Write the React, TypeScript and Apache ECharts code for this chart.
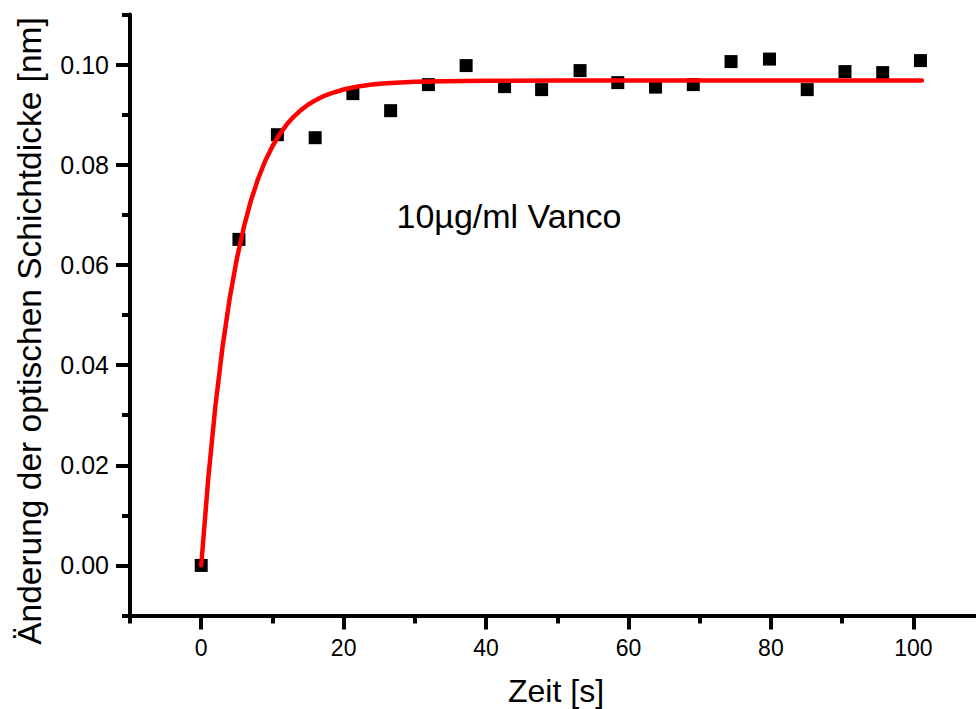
import React, { useEffect, useRef } from "react";
import * as echarts from "echarts";

// Measured data points (time [s], change of optical thickness [nm])
const timeValues = [0, 5.3, 10.7, 16.0, 21.3, 26.6, 31.9, 37.2, 42.6, 47.8, 53.2, 58.5, 63.8, 69.1, 74.4, 79.8, 85.1, 90.4, 95.7, 101.0];
const thicknessValues = [0.0, 0.0651, 0.086, 0.0854, 0.0942, 0.0908, 0.096, 0.0998, 0.0956, 0.095, 0.0988, 0.0964, 0.0955, 0.096, 0.1006, 0.1011, 0.095, 0.0986, 0.0984, 0.1008];

// Fit curve (red line)
const fitTime = [0, 1, 2, 3, 4, 5, 6, 7, 8, 9, 10, 11, 12, 13, 14, 15, 16, 17, 18, 20, 22, 24, 26, 28, 30, 34, 40, 50, 70, 101.2];
const fitValues = [0, 0.01755, 0.03191, 0.04368, 0.05331, 0.06119, 0.06764, 0.07293, 0.07726, 0.0808, 0.0837, 0.08607, 0.08802, 0.08961, 0.09091, 0.09198, 0.09285, 0.09357, 0.09416, 0.09503, 0.09561, 0.09601, 0.09627, 0.09644, 0.09656, 0.09669, 0.09677, 0.0968, 0.0968, 0.0968];

// Tick values
const xMajorTicks = [0, 20, 40, 60, 80, 100];
const xMinorTicks = [-10, 10, 30, 50, 70, 90];
const yMajorTicks = [0, 0.02, 0.04, 0.06, 0.08, 0.1];
const yMinorTicks = [-0.01, 0.01, 0.03, 0.05, 0.07, 0.09, 0.11];

const xTitle = "Zeit [s]";
const yTitle = "Änderung der optischen Schichtdicke [nm]";
const annotation = "10µg/ml Vanco";

const FONT = "Liberation Sans, Arial, Helvetica, sans-serif";
const X_MIN = -10;
const X_MAX = 108.8;
const Y_MIN = -0.01;
const Y_MAX = 0.11;

export default function App() {
  const ref = useRef<HTMLDivElement>(null);
  useEffect(() => {
    if (!ref.current) return;
    const chart = echarts.init(ref.current, undefined, { renderer: "svg" });
    const gridPos = { left: 130, right: 0, top: 14.5, bottom: 93.5, containLabel: false };
    const scatterData = timeValues.map((t, i) => [t, thicknessValues[i]]);
    const fitData = fitTime.map((t, i) => [t, fitValues[i]]);
    chart.setOption({
      animation: false,
      backgroundColor: "#ffffff",
      grid: [gridPos, { ...gridPos }],
      xAxis: [
        {
          type: "value",
          gridIndex: 0,
          min: X_MIN,
          max: X_MAX,
          position: "bottom",
          axisLine: { show: true, onZero: false, lineStyle: { color: "#000", width: 4 } },
          axisTick: { show: true, length: 14, customValues: xMajorTicks, lineStyle: { color: "#000", width: 4 } },
          axisLabel: {
            show: true,
            customValues: xMajorTicks,
            margin: 21,
            color: "#000",
            fontFamily: FONT,
            fontSize: 23,
            formatter: (v: number) => String(Math.round(v)),
          },
          splitLine: { show: false },
        },
        {
          type: "value",
          gridIndex: 1,
          min: X_MIN,
          max: X_MAX,
          position: "bottom",
          axisLine: { show: false, onZero: false },
          axisTick: { show: true, length: 8, customValues: xMinorTicks, lineStyle: { color: "#000", width: 4 } },
          axisLabel: { show: false },
          splitLine: { show: false },
        },
      ],
      yAxis: [
        {
          type: "value",
          gridIndex: 0,
          min: Y_MIN,
          max: Y_MAX,
          position: "left",
          axisLine: { show: true, onZero: false, lineStyle: { color: "#000", width: 4 } },
          axisTick: { show: true, length: 14, customValues: yMajorTicks, lineStyle: { color: "#000", width: 4 } },
          axisLabel: {
            show: true,
            customValues: yMajorTicks,
            margin: 21,
            color: "#000",
            fontFamily: FONT,
            fontSize: 25,
            formatter: (v: number) => v.toFixed(2),
          },
          splitLine: { show: false },
        },
        {
          type: "value",
          gridIndex: 1,
          min: Y_MIN,
          max: Y_MAX,
          position: "left",
          axisLine: { show: false, onZero: false },
          axisTick: { show: true, length: 8, customValues: yMinorTicks, lineStyle: { color: "#000", width: 4 } },
          axisLabel: { show: false },
          splitLine: { show: false },
        },
      ],
      series: [
        {
          type: "scatter",
          xAxisIndex: 0,
          yAxisIndex: 0,
          data: scatterData,
          symbol: "rect",
          symbolSize: 13,
          itemStyle: { color: "#000", opacity: 1 },
          z: 2,
        },
        {
          type: "line",
          xAxisIndex: 0,
          yAxisIndex: 0,
          data: fitData,
          showSymbol: false,
          symbol: "none",
          lineStyle: { color: "#ff0000", width: 4.5, cap: "round", join: "round" },
          z: 3,
        },
      ],
      graphic: [
        {
          type: "text",
          x: 509,
          y: 216,
          style: { text: annotation, fill: "#000", font: `34px ${FONT}`, align: "center", verticalAlign: "middle" },
        },
        {
          type: "text",
          x: 556,
          y: 691,
          style: { text: xTitle, fill: "#000", font: `32px ${FONT}`, align: "center", verticalAlign: "middle" },
        },
        {
          type: "text",
          x: 29,
          y: 331,
          rotation: Math.PI / 2,
          style: { text: yTitle, fill: "#000", font: `33.5px ${FONT}`, align: "center", verticalAlign: "middle" },
        },
      ],
    });
    return () => chart.dispose();
  }, []);
  return <div ref={ref} style={{ position: "fixed", left: 0, top: 0, width: 976, height: 709, background: "#fff" }} />;
}
